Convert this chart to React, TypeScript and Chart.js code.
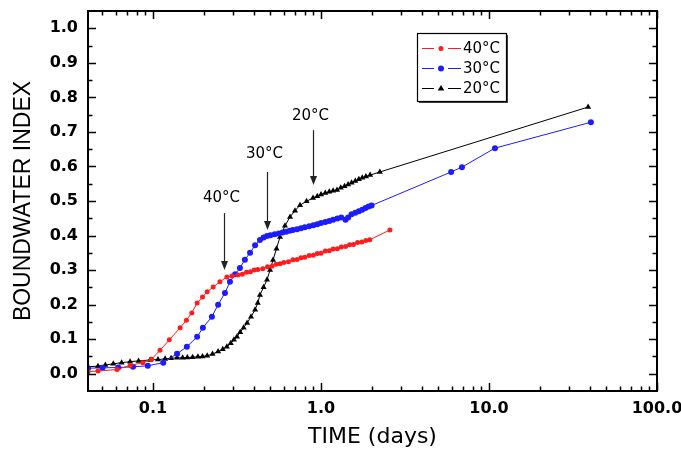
import React, { useEffect, useRef } from "react";
import { Chart, registerables } from "chart.js";

Chart.register(...registerables);

// ---- axis ticks ----
const xTickValues = [0.1, 1, 10, 100];
const xTickLabels = ["0.1", "1.0", "10.0", "100.0"];
const yTickValues = [0, 0.1, 0.2, 0.3, 0.4, 0.5, 0.6, 0.7, 0.8, 0.9, 1.0];

// ---- series names ----
const seriesNames = ["40°C", "30°C", "20°C"];

// ---- 40°C (time in days, boundwater index) ----
const time40 = [
  0.041, 0.047, 0.061, 0.073, 0.087, 0.098, 0.11, 0.125, 0.145, 0.158, 0.17, 0.183, 0.197, 0.21,
  0.228, 0.25, 0.275, 0.295, 0.32, 0.34, 0.36, 0.38, 0.4, 0.42, 0.45, 0.48, 0.51, 0.54, 0.57, 0.6,
  0.64, 0.68, 0.72, 0.76, 0.8, 0.85, 0.9, 0.95, 1.0, 1.06, 1.12, 1.18, 1.25, 1.32, 1.4, 1.48, 1.56,
  1.65, 1.75, 1.85, 1.95, 2.57,
];
const index40 = [
  0.006, 0.008, 0.012, 0.024, 0.032, 0.042, 0.068, 0.098, 0.133, 0.155, 0.176, 0.205, 0.222, 0.237,
  0.251, 0.266, 0.28, 0.283, 0.286, 0.288, 0.294, 0.295, 0.3, 0.302, 0.304, 0.31, 0.311, 0.317, 0.318,
  0.322, 0.324, 0.33, 0.331, 0.336, 0.337, 0.342, 0.343, 0.348, 0.349, 0.355, 0.356, 0.361, 0.362,
  0.367, 0.368, 0.373, 0.374, 0.38, 0.381, 0.386, 0.388, 0.416,
];

// ---- 30°C ----
const time30 = [
  0.041, 0.05, 0.062, 0.076, 0.093, 0.115, 0.139, 0.159, 0.183, 0.198, 0.224, 0.244, 0.268, 0.287,
  0.308, 0.329, 0.352, 0.378, 0.405, 0.433, 0.455, 0.477, 0.5, 0.53, 0.56, 0.59, 0.62, 0.65, 0.68,
  0.72, 0.76, 0.8, 0.85, 0.9, 0.95, 1.0, 1.06, 1.12, 1.18, 1.25, 1.32, 1.4, 1.45, 1.52, 1.6, 1.68,
  1.76, 1.84, 1.92, 2.0, 5.95, 6.9, 10.85, 40.4,
];
const index30 = [
  0.016, 0.017, 0.018, 0.02, 0.023, 0.032, 0.058, 0.078, 0.107, 0.133, 0.165, 0.2, 0.234, 0.266,
  0.288, 0.306, 0.33, 0.35, 0.372, 0.387, 0.394, 0.399, 0.401, 0.404, 0.406, 0.409, 0.411, 0.414,
  0.416, 0.418, 0.421, 0.424, 0.427, 0.43, 0.433, 0.436, 0.439, 0.442, 0.446, 0.449, 0.452, 0.446,
  0.452, 0.462, 0.466, 0.47, 0.475, 0.48, 0.484, 0.487, 0.584, 0.598, 0.653, 0.728,
];

// ---- 20°C ----
const time20 = [
  0.041, 0.047, 0.052, 0.058, 0.065, 0.073, 0.082, 0.096, 0.107, 0.118, 0.128, 0.139, 0.15, 0.16,
  0.172, 0.185, 0.197, 0.21, 0.226, 0.244, 0.26, 0.275, 0.29, 0.303, 0.316, 0.33, 0.346, 0.363,
  0.383, 0.405, 0.42, 0.433, 0.455, 0.477, 0.497, 0.518, 0.543, 0.57, 0.61, 0.654, 0.7, 0.75, 0.82,
  0.896, 0.95, 1.0, 1.06, 1.12, 1.18, 1.245, 1.31, 1.38, 1.45, 1.52, 1.6, 1.68, 1.76, 1.85, 1.96,
  2.24, 38.9,
];
const index20 = [
  0.02, 0.022, 0.025, 0.029, 0.032, 0.035, 0.037, 0.04, 0.041, 0.043, 0.045, 0.046, 0.046, 0.047,
  0.048, 0.049, 0.05, 0.052, 0.057, 0.064, 0.071, 0.078, 0.088, 0.098, 0.107, 0.12, 0.133, 0.147,
  0.165, 0.185, 0.205, 0.228, 0.25, 0.272, 0.3, 0.329, 0.362, 0.396, 0.428, 0.454, 0.472, 0.488,
  0.499, 0.509, 0.514, 0.519, 0.523, 0.527, 0.53, 0.532, 0.538, 0.543, 0.548, 0.553, 0.558, 0.563,
  0.567, 0.571, 0.575, 0.584, 0.772,
];

// ---- arrow annotations (label, time, tail, tip, text level) ----
const noteLabels = ["40°C", "30°C", "20°C"];
const noteTime = [0.264, 0.477, 0.896];
const noteTail = [0.465, 0.584, 0.705];
const noteTip = [0.3, 0.416, 0.546];
const noteText = [0.509, 0.636, 0.746];

const colors = ["#ff1c1c", "#1c1cff", "#000000"];
const markers = ["circle", "circle", "triangle"];
const markerRadius = [2.5, 3, 3.5];

const toPoints = (t: number[], v: number[]) => t.map((x, i) => ({ x, y: v[i] }));

function drawMarker(ctx: CanvasRenderingContext2D, style: string, x: number, y: number, r: number) {
  ctx.beginPath();
  if (style === "triangle") {
    ctx.moveTo(x, y - r);
    ctx.lineTo(x + r * 0.95, y + r * 0.6);
    ctx.lineTo(x - r * 0.95, y + r * 0.6);
    ctx.closePath();
  } else {
    ctx.arc(x, y, r, 0, Math.PI * 2);
  }
  ctx.fill();
}

const framePlugin = {
  id: "frameTicks",
  afterDraw(chart: any) {
    const { ctx, chartArea: a } = chart;
    const xs = chart.scales.x;
    const ys = chart.scales.y;
    ctx.save();
    ctx.strokeStyle = "#000";
    ctx.lineWidth = 1.5;
    ctx.beginPath();
    for (let i = 0; i <= 20; i++) {
      const v = i * 0.05;
      const py = Math.round(ys.getPixelForValue(v)) + 0.5;
      const len = i % 2 === 0 ? 8 : 4.5;
      ctx.moveTo(a.left, py);
      ctx.lineTo(a.left + len, py);
      ctx.moveTo(a.right, py);
      ctx.lineTo(a.right - len, py);
    }
    for (let k = -2; k <= 2; k++) {
      for (let m = 1; m <= 9; m++) {
        const v = m * Math.pow(10, k);
        if (v < xs.min * 1.0001 || v > xs.max * 1.0001) continue;
        const px = Math.round(xs.getPixelForValue(v)) + 0.5;
        const len = m === 1 ? 8 : 4.5;
        ctx.moveTo(px, a.bottom);
        ctx.lineTo(px, a.bottom - len);
        ctx.moveTo(px, a.top);
        ctx.lineTo(px, a.top + len);
      }
    }
    ctx.stroke();
    ctx.lineWidth = 2;
    ctx.strokeRect(a.left, a.top, a.right - a.left, a.bottom - a.top);

    // legend
    const bx = 417, by = 33, bw = 89, bh = 68;
    ctx.fillStyle = "#444";
    ctx.fillRect(bx + 2, by + 2, bw, bh);
    ctx.fillStyle = "#fff";
    ctx.fillRect(bx, by, bw, bh);
    ctx.lineWidth = 1.2;
    ctx.strokeStyle = "#000";
    ctx.strokeRect(bx + 0.5, by + 0.5, bw, bh);
    chart.data.datasets.forEach((ds: any, i: number) => {
      const ly = by + 15 + i * 20;
      ctx.strokeStyle = ds.borderColor;
      ctx.lineWidth = 1;
      ctx.beginPath();
      ctx.moveTo(bx + 5, ly + 0.5);
      ctx.lineTo(bx + 17, ly + 0.5);
      ctx.moveTo(bx + 31, ly + 0.5);
      ctx.lineTo(bx + 44, ly + 0.5);
      ctx.stroke();
      ctx.fillStyle = ds.borderColor;
      drawMarker(ctx, ds.pointStyle, bx + 24, ly + 0.5, ds.pointRadius);
      ctx.fillStyle = "#000";
      ctx.font = '15px "DejaVu Sans"';
      ctx.textAlign = "left";
      ctx.textBaseline = "middle";
      ctx.fillText(ds.label, bx + 46, ly + 1);
    });
    ctx.restore();
  },
  afterDatasetsDraw(chart: any) {
    const { ctx } = chart;
    const xs = chart.scales.x;
    const ys = chart.scales.y;
    ctx.save();
    ctx.strokeStyle = "#222";
    ctx.fillStyle = "#222";
    ctx.lineWidth = 1.2;
    noteLabels.forEach((label, i) => {
      const px = Math.round(xs.getPixelForValue(noteTime[i])) + 0.5;
      const tail = ys.getPixelForValue(noteTail[i]);
      const tip = ys.getPixelForValue(noteTip[i]);
      ctx.beginPath();
      ctx.moveTo(px, tail);
      ctx.lineTo(px, tip - 7);
      ctx.stroke();
      ctx.beginPath();
      ctx.moveTo(px - 3.5, tip - 9);
      ctx.lineTo(px + 3.5, tip - 9);
      ctx.lineTo(px, tip);
      ctx.closePath();
      ctx.fill();
      ctx.fillStyle = "#000";
      ctx.font = '15px "DejaVu Sans"';
      ctx.textAlign = "center";
      ctx.textBaseline = "middle";
      ctx.fillText(label, px - 3, ys.getPixelForValue(noteText[i]));
      ctx.fillStyle = "#222";
    });
    ctx.restore();
  },
};

export default function App() {
  const ref = useRef<HTMLCanvasElement | null>(null);
  useEffect(() => {
    if (!ref.current) return;
    const series = [
      toPoints(time40, index40),
      toPoints(time30, index30),
      toPoints(time20, index20),
    ];
    const chart = new Chart(ref.current, {
      type: "scatter",
      data: {
        datasets: series.map((pts, i) => ({
          label: seriesNames[i],
          data: pts,
          showLine: true,
          borderColor: colors[i],
          backgroundColor: colors[i],
          borderWidth: 1,
          pointStyle: markers[i] as any,
          pointRadius: markerRadius[i],
          pointBorderWidth: 0,
          pointBackgroundColor: colors[i],
          tension: 0,
        })),
      },
      options: {
        animation: false,
        responsive: false,
        events: [],
        layout: { padding: { top: 11, right: 24, left: 0, bottom: 0 } },
        plugins: { legend: { display: false }, tooltip: { enabled: false } },
        scales: {
          x: {
            type: "logarithmic",
            min: 0.041,
            max: 100,
            grid: { display: false, drawTicks: false },
            border: { display: false },
            afterBuildTicks: (s: any) => {
              s.ticks = xTickValues.map((v) => ({ value: v }));
            },
            afterFit: (s: any) => {
              s.height = 61;
              s.paddingLeft = 0;
              s.paddingRight = 0;
            },
            ticks: {
              autoSkip: false,
              maxRotation: 0,
              padding: 8,
              color: "#000",
              font: { family: '"DejaVu Sans"', size: 16, weight: "bold" },
              callback: (v: any) => {
                const i = xTickValues.findIndex((t) => Math.abs(t - Number(v)) / t < 1e-6);
                return i >= 0 ? xTickLabels[i] : "";
              },
            },
            title: {
              display: true,
              text: "TIME (days)",
              color: "#000",
              font: { family: '"DejaVu Sans"', size: 22 },
              padding: { top: 0, bottom: 2 },
            },
          },
          y: {
            type: "linear",
            min: -0.05,
            max: 1.05,
            grid: { display: false, drawTicks: false },
            border: { display: false },
            afterBuildTicks: (s: any) => {
              s.ticks = yTickValues.map((v) => ({ value: v }));
            },
            afterFit: (s: any) => {
              s.width = 88;
              s.paddingTop = 0;
              s.paddingBottom = 0;
            },
            ticks: {
              padding: 10,
              color: "#000",
              font: { family: '"DejaVu Sans"', size: 16, weight: "bold" },
              callback: (v: any) => Number(v).toFixed(1),
            },
            title: {
              display: true,
              text: "BOUNDWATER INDEX",
              color: "#000",
              font: { family: '"Liberation Sans"', size: 23 },
              padding: { top: 10, bottom: 0 },
            },
          },
        },
      },
      plugins: [framePlugin],
    });
    return () => chart.destroy();
  }, []);
  return (
    <div style={{ position: "absolute", left: 0, top: 0, width: 681, height: 452, background: "#fff" }}>
      <canvas ref={ref} width={681} height={452} style={{ display: "block" }} />
    </div>
  );
}
